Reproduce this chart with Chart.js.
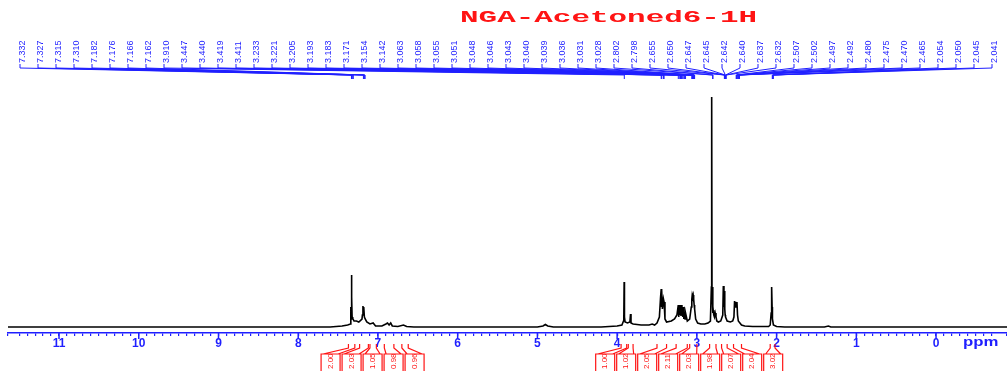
<!DOCTYPE html>
<html>
<head>
<meta charset="utf-8">
<script src="https://cdn.jsdelivr.net/npm/chart.js@4.4.1/dist/chart.umd.min.js"></script>
<style>
  html, body { margin: 0; padding: 0; background: #fff; }
  #wrap { width: 1007px; height: 371px; }
</style>
</head>
<body>
<div id="wrap"><canvas id="nmrChart"></canvas></div>
<script>
// spectrum trace (ppm, height)
const tracePpm = [11.64, 8.00, 7.60, 7.45, 7.38, 7.345, 7.340, 7.336, 7.332, 7.328, 7.324, 7.316, 7.312, 7.300, 7.27, 7.24, 7.20,
  7.195, 7.188, 7.184, 7.178, 7.170, 7.160, 7.14, 7.10, 7.06, 7.03, 6.95, 6.90, 6.88, 6.86, 6.84, 6.82, 6.75, 6.68, 6.64, 6.55,
  5.00, 4.93, 4.90, 4.87, 4.80, 4.20, 4.10, 4.00, 3.94, 3.92, 3.916, 3.912, 3.908, 3.90, 3.87, 3.84, 3.832, 3.826, 3.80, 3.70,
  3.60, 3.56, 3.53, 3.50, 3.47, 3.455, 3.447, 3.443, 3.440, 3.432, 3.419, 3.411, 3.40, 3.38, 3.32, 3.28, 3.25, 3.233, 3.227,
  3.221, 3.213, 3.205, 3.199, 3.193, 3.187, 3.183, 3.177, 3.171, 3.163, 3.154, 3.148, 3.142, 3.12, 3.09, 3.070, 3.063, 3.058,
  3.052, 3.046, 3.040, 3.034, 3.028, 3.015, 2.99, 2.95, 2.90, 2.86, 2.83, 2.818, 2.814, 2.810, 2.80, 2.795, 2.788, 2.78, 2.77,
  2.76, 2.75, 2.73, 2.70, 2.675, 2.668, 2.660, 2.655, 2.650, 2.645, 2.64, 2.62, 2.58, 2.55, 2.535, 2.527, 2.520, 2.512, 2.505,
  2.497, 2.49, 2.48, 2.46, 2.44, 2.40, 2.30, 2.10, 2.08, 2.068, 2.062, 2.056, 2.052, 2.04, 2.00, 1.90, 1.40, 1.35, 1.32, 1.20,
  -0.89];
const traceHeight = [0, 0, 0, 1, 2, 3, 20, 8, 52, 30, 10, 9, 8, 6, 6, 5, 8,
  12, 21, 14, 20, 10, 8, 5, 3, 4, 1, 1, 3, 4, 2, 4, 1, 0.5, 2, 0.5, 0,
  0, 1, 2.5, 1, 0, 0, 0.5, 1, 2, 6, 10, 45, 10, 5, 4, 5, 13, 4, 3, 2,
  2, 3, 2, 4, 10, 30, 38, 20, 37, 18, 28, 25, 8, 5, 6, 8, 12, 22, 10,
  22, 12, 21, 11, 22, 12, 20, 10, 20, 8, 15, 8, 14, 6, 8, 20, 28, 32,
  30, 32, 28, 22, 18, 8, 4, 3, 3, 4, 6, 40, 230, 40, 14, 17, 12, 10, 14,
  10, 6, 5, 6, 12, 41, 20, 36, 18, 12, 10, 6, 5, 6, 10, 26, 20, 25, 22,
  25, 12, 6, 4, 2, 1, 0.5, 0.5, 2, 14, 40, 20, 8, 2, 0.5, 0, 0, 1, 0, 0,
  0];

// picked peak labels (ppm)
const peakLabels = ['7.332', '7.327', '7.315', '7.310', '7.182', '7.176', '7.166', '7.162', '3.910', '3.447', '3.440',
  '3.419', '3.411', '3.233', '3.221', '3.205', '3.193', '3.183', '3.171', '3.154', '3.142', '3.063', '3.058', '3.055',
  '3.051', '3.048', '3.046', '3.043', '3.040', '3.039', '3.036', '3.031', '3.028', '2.802', '2.798', '2.655', '2.650',
  '2.647', '2.645', '2.642', '2.640', '2.637', '2.632', '2.507', '2.502', '2.497', '2.492', '2.480', '2.475', '2.470',
  '2.465', '2.054', '2.050', '2.045', '2.041'];

// integrals
const integralFrom = [7.37, 7.23, 7.10, 6.92, 6.70, 3.95, 3.86, 3.50, 3.26, 3.09, 2.84, 2.69, 2.54, 2.08];
const integralTo = [7.29, 7.12, 7.02, 6.80, 6.62, 3.88, 3.80, 3.38, 3.12, 3.00, 2.76, 2.62, 2.44, 2.02];
const integralValues = ['2.00', '2.03', '1.05', '0.98', '0.96', '1.00', '1.02', '2.05', '2.11', '2.03', '1.98', '2.07', '2.04', '3.02'];
const integralGroup = [0, 0, 0, 0, 0, 1, 1, 1, 1, 1, 1, 1, 1, 1];

const axisTicks = [11, 10, 9, 8, 7, 6, 5, 4, 3, 2, 1, 0];

const BLUE = '#1f1fff';
const RED = '#ff1414';

const extras = {
  id: 'nmrExtras',
  afterDraw(chart) {
    const ctx = chart.ctx;
    const xs = chart.scales.x;
    const area = chart.chartArea;

    // title
    ctx.save();
    ctx.fillStyle = RED;
    ctx.font = 'bold 17px "Liberation Mono", monospace';
    ctx.textBaseline = 'middle';
    ctx.translate(460, 18);
    ctx.scale(1.82, 1);
    ctx.fillText('NGA-Acetoned6-1H', 0, 0);
    ctx.restore();

    // major ticks + ppm label
    ctx.save();
    ctx.strokeStyle = BLUE;
    ctx.lineWidth = 1.5;
    axisTicks.forEach(v => {
      const px = xs.getPixelForValue(v);
      ctx.beginPath();
      ctx.moveTo(px, area.bottom);
      ctx.lineTo(px, area.bottom + 6);
      ctx.stroke();
    });
    ctx.fillStyle = BLUE;
    ctx.font = 'bold 12px Arial';
    ctx.textBaseline = 'middle';
    ctx.translate(963, 343);
    ctx.scale(1.4, 1);
    ctx.fillText('ppm', 0, 0);
    ctx.restore();

    // peak labels
    ctx.save();
    ctx.strokeStyle = BLUE;
    ctx.fillStyle = BLUE;
    ctx.lineWidth = 1;
    ctx.font = '9px Arial';
    const n = peakLabels.length;
    const x0 = 20, x1 = 992;
    peakLabels.forEach((lab, i) => {
      const lx = x0 + (x1 - x0) * i / (n - 1);
      const px = xs.getPixelForValue(parseFloat(lab));
      ctx.save();
      ctx.translate(lx + 3, 63);
      ctx.rotate(-Math.PI / 2);
      ctx.textBaseline = 'middle';
      ctx.textAlign = 'left';
      ctx.fillText(lab, 0, 0);
      ctx.restore();
      ctx.beginPath();
      ctx.moveTo(lx, 64);
      ctx.lineTo(lx, 68);
      ctx.lineTo(px, 75);
      ctx.lineTo(px, 79);
      ctx.stroke();
    });
    ctx.restore();

    // integrals
    ctx.save();
    ctx.strokeStyle = RED;
    ctx.fillStyle = RED;
    ctx.lineWidth = 1.2;
    ctx.font = '8px Arial';
    const boxW = 21;
    const groups = [...new Set(integralGroup)];
    groups.forEach(g => {
      const idx = integralGroup.map((gg, i) => gg === g ? i : -1).filter(i => i >= 0);
      const centers = idx.map(i => xs.getPixelForValue((integralFrom[i] + integralTo[i]) / 2));
      const mid = centers.reduce((a, b) => a + b, 0) / centers.length;
      const start = mid - boxW * idx.length / 2 - 4;
      idx.forEach((i, k) => {
        const xl = start + k * boxW;
        const xr = xl + boxW;
        const pa = xs.getPixelForValue(integralFrom[i]);
        const pb = xs.getPixelForValue(integralTo[i]);
        ctx.beginPath();
        ctx.moveTo(xl + 1, 371);
        ctx.lineTo(xl + 1, 354);
        ctx.lineTo(xr - 1, 354);
        ctx.lineTo(xr - 1, 371);
        ctx.moveTo(xl + 3, 354);
        ctx.lineTo(pa, 348);
        ctx.lineTo(pa, 344);
        ctx.moveTo(xr - 3, 354);
        ctx.lineTo(pb, 348);
        ctx.lineTo(pb, 344);
        ctx.stroke();
        ctx.save();
        ctx.translate((xl + xr) / 2, 369);
        ctx.rotate(-Math.PI / 2);
        ctx.textBaseline = 'middle';
        ctx.textAlign = 'left';
        ctx.fillText(integralValues[i], 0, 0);
        ctx.restore();
      });
    });
    ctx.restore();
  }
};

new Chart(document.getElementById('nmrChart').getContext('2d'), {
  type: 'line',
  data: {
    datasets: [{
      data: tracePpm.map((p, i) => ({ x: p, y: traceHeight[i] })),
      borderColor: '#000',
      borderWidth: 1.6,
      pointRadius: 0,
      tension: 0,
      fill: false
    }]
  },
  options: {
    responsive: true,
    maintainAspectRatio: false,
    animation: false,
    layout: { padding: { top: 90, left: 8, right: 0, bottom: 0 } },
    plugins: { legend: { display: false }, tooltip: { enabled: false } },
    scales: {
      x: {
        type: 'linear',
        reverse: true,
        min: -0.89,
        max: 11.64,
        border: { color: BLUE, width: 1.5 },
        grid: { drawOnChartArea: false, color: BLUE, tickLength: 3, lineWidth: 1.2 },
        ticks: {
          stepSize: 0.1,
          autoSkip: false,
          maxRotation: 0,
          color: BLUE,
          padding: 0,
          font: { family: 'Arial', size: 12, weight: 'bold' },
          callback: v => Math.abs(v - Math.round(v)) < 1e-6 ? String(Math.abs(Math.round(v))) : ''
        },
        afterFit: s => { s.height = 38; }
      },
      y: { display: false, min: -6, max: 237 }
    }
  },
  plugins: [extras]
});
</script>
</body>
</html>
